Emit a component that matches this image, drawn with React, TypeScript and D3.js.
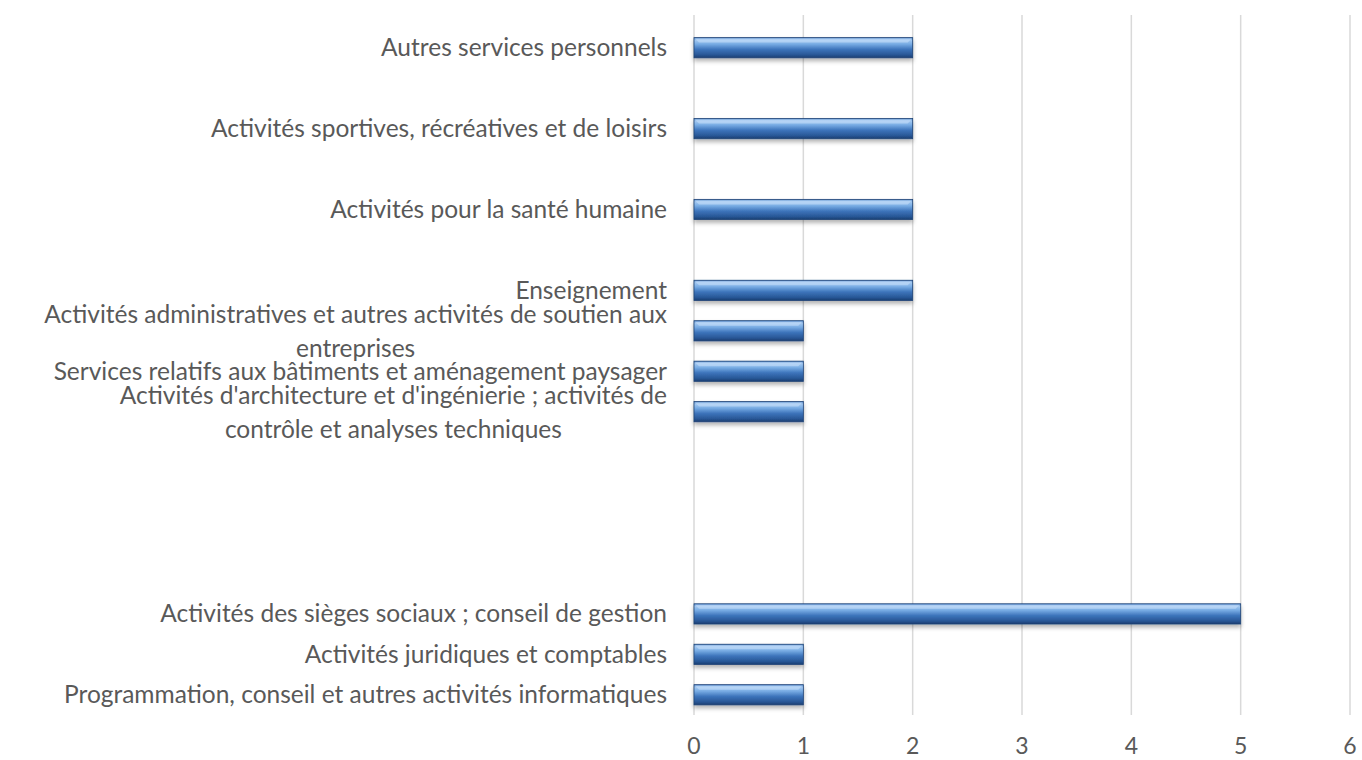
import React, { useEffect, useRef } from 'react';
import * as d3 from 'd3';

// categories listed top to bottom, empty strings are blank slots on the axis
const categories: string[][] = [
  ['Autres services personnels'],
  [],
  ['Activités sportives, récréatives et de loisirs'],
  [],
  ['Activités pour la santé humaine'],
  [],
  ['Enseignement'],
  ['Activités administratives et autres activités de soutien aux', 'entreprises'],
  ['Services relatifs aux bâtiments et aménagement paysager'],
  ["Activités d'architecture et d'ingénierie ; activités de", 'contrôle et analyses techniques'],
  [],
  [],
  [],
  [],
  ['Activités des sièges sociaux ; conseil de gestion'],
  ['Activités juridiques et comptables'],
  ['Programmation, conseil et autres activités informatiques'],
];
const values: (number | null)[] = [2, null, 2, null, 2, null, 2, 1, 1, 1, null, null, null, null, 5, 1, 1];
const xTicks = [0, 1, 2, 3, 4, 5, 6];

const W = 1362;
const H = 760;

const App = () => {
  const ref = useRef<SVGSVGElement>(null);

  useEffect(() => {
    const svg = d3.select(ref.current);
    svg.selectAll('*').remove();

    const font = "Lato, 'Open Sans', sans-serif";
    const textColor = '#595959';

    const x = d3.scaleLinear().domain([0, 6]).range([694, 1350]);
    const y = d3.scaleBand<number>()
      .domain(d3.range(categories.length))
      .range([27.5, 715])
      .paddingInner(0.5)
      .paddingOuter(0.25);

    const defs = svg.append('defs');
    const grad = defs.append('linearGradient')
      .attr('id', 'barGrad')
      .attr('x1', 0).attr('y1', 0).attr('x2', 0).attr('y2', 1);
    [
      ['0%', '#5187c8'],
      ['12%', '#a3c8f0'],
      ['32%', '#78ace4'],
      ['58%', '#3d74bb'],
      ['85%', '#285796'],
      ['100%', '#1a3d70'],
    ].forEach(([o, c]) => grad.append('stop').attr('offset', o).attr('stop-color', c));

    const shadow = defs.append('filter').attr('id', 'shadow')
      .attr('x', '-5%').attr('y', '-40%').attr('width', '110%').attr('height', '200%');
    shadow.append('feDropShadow')
      .attr('dx', 0).attr('dy', 3).attr('stdDeviation', 2)
      .attr('flood-color', '#000').attr('flood-opacity', 0.3);

    // gridlines
    svg.append('g')
      .selectAll('line')
      .data(xTicks)
      .enter().append('line')
      .attr('x1', d => x(d)).attr('x2', d => x(d))
      .attr('y1', 15).attr('y2', 715)
      .attr('stroke', '#d9d9d9')
      .attr('stroke-width', 1.5);

    // bars
    const barData = values.map((v, i) => ({ v, i })).filter(d => d.v !== null) as { v: number; i: number }[];
    const bars = svg.append('g')
      .selectAll('g')
      .data(barData)
      .enter().append('g');

    bars.append('rect')
      .attr('x', x(0))
      .attr('y', d => y(d.i)!)
      .attr('width', d => x(d.v) - x(0))
      .attr('height', y.bandwidth())
      .attr('fill', 'url(#barGrad)')
      .attr('stroke', '#1f4477')
      .attr('stroke-width', 0.8)
      .attr('filter', 'url(#shadow)');

    // bevel highlight along the top
    bars.append('path')
      .attr('d', d => {
        const x0 = x(0) + 1, x1 = x(d.v) - 1, y0 = y(d.i)! + 1, b = 4;
        return `M${x0},${y0} L${x1},${y0} L${x1 - b},${y0 + b} L${x0 + b},${y0 + b} Z`;
      })
      .attr('fill', '#c4defa')
      .attr('opacity', 0.6);

    // category labels
    const labelX = 667;
    const labels = svg.append('g')
      .attr('font-family', font)
      .attr('font-size', 24.5)
      .attr('fill', textColor);

    categories.forEach((lines, i) => {
      if (!lines.length) return;
      const cy = y(i)! + y.bandwidth() / 2;
      if (lines.length === 1) {
        labels.append('text')
          .attr('x', labelX)
          .attr('y', cy)
          .attr('dy', '0.35em')
          .attr('text-anchor', 'end')
          .text(lines[0]);
      } else {
        const first = labels.append('text')
          .attr('x', labelX)
          .attr('y', cy - 16)
          .attr('dy', '0.35em')
          .attr('text-anchor', 'end')
          .text(lines[0]);
        const w = (first.node() as SVGTextElement).getComputedTextLength();
        labels.append('text')
          .attr('x', labelX - w / 2)
          .attr('y', cy + 18)
          .attr('dy', '0.35em')
          .attr('text-anchor', 'middle')
          .text(lines[1]);
      }
    });

    // x tick labels
    svg.append('g')
      .attr('font-family', font)
      .attr('font-size', 23)
      .attr('fill', textColor)
      .selectAll('text')
      .data(xTicks)
      .enter().append('text')
      .attr('x', d => x(d))
      .attr('y', 746)
      .attr('dy', '0.35em')
      .attr('text-anchor', 'middle')
      .text(d => d);
  }, []);

  return (
    <svg
      ref={ref}
      width={W}
      height={H}
      style={{ position: 'absolute', left: 0, top: 0, background: '#fff' }}
    />
  );
};

export default App;
